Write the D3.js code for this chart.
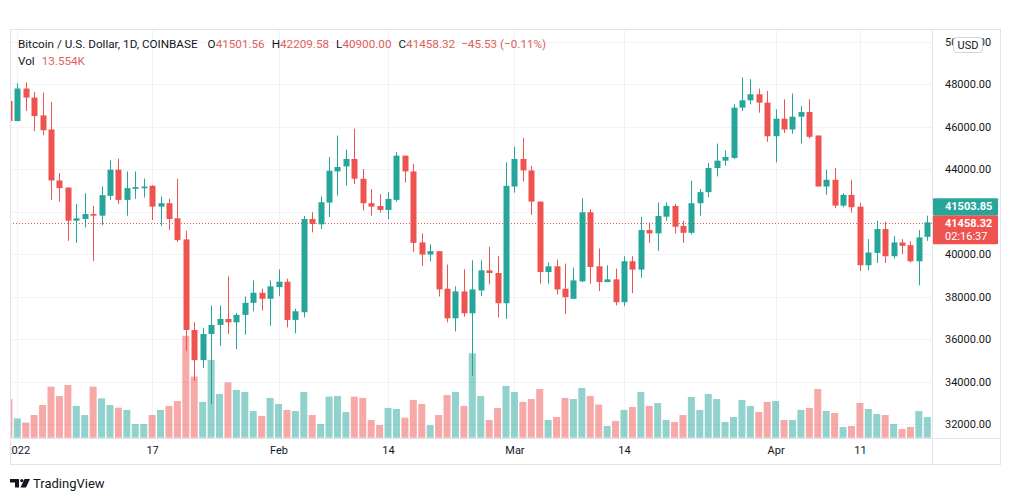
<!DOCTYPE html>
<html><head><meta charset="utf-8">
<script src="https://cdn.jsdelivr.net/npm/d3@7"></script>
<style>
html,body{margin:0;padding:0;background:#fff;}
svg{display:block;font-family:Roboto,"Noto Sans",sans-serif;}
</style></head>
<body>
<svg id="chart" width="1012" height="501"></svg>
<script>
// ---- data (Dec 31 2021 .. Apr 19 2022, daily) ----
const startDate = "2021-12-31";
const endDate = "2022-04-20"; // exclusive
const openVals = [47209,
 46262,47796,47370,46532,45868,43467,43135,41572,41652,41889,41809,42742,43974,42552,43073,43100,43216,42235,42396,41686,40691,36428,35006,36238,36664,36948,36787,37138,37706,38180,37896,
 38446,38701,36901,37261,41652,41401,42425,43893,44130,44480,43547,42396,42268,42079,42552,44637,43893,40549,39980,40137,38370,36977,38242,37214,38289,39237,39109,37687,
 43183,44480,43940,42472,39156,39426,38370,37896,38716,41970,39426,38682,38810,37735,39663,39270,41131,40975,41761,42268,41321,41003,42396,42917,44054,44400,44528,46896,47242,47526,47133,
 45551,46375,45868,46470,46688,45584,43183,43500,42283,42789,42235,39474,40056,41179,39900,40549,40421,39663,40814];
const highVals = [47300,
 48047,48080,47635,47607,47162,43817,43135,42363,42870,42268,43183,44414,44495,43893,43893,43561,43250,42709,42600,43547,41098,36787,36522,37579,37579,38952,37233,38005,38763,38370,38763,
 39284,38843,37422,41794,41970,42709,44575,45584,44921,45901,44007,43059,42822,42917,44812,44637,44244,40975,40454,40137,39507,38480,39284,39710,39710,40340,39900,44319,
 45049,45475,44163,42472,39601,39743,39554,39364,42633,42112,40265,39474,39317,39900,39900,41761,41496,42425,42425,42363,41572,43452,43073,44291,45205,44874,47053,48317,48237,47796,47683,
 46816,47289,47559,46972,47289,45584,43974,44054,42870,43500,42425,40705,41572,41524,40847,40705,40610,41131,41809];
const lowVals = [46200,
 46262,46735,45788,45598,42552,42472,40624,40530,41259,39677,41368,42552,42363,41809,42600,42661,41605,41321,41131,40577,35447,34026,34628,32922,35684,36238,35527,36205,37308,37342,36631,
 38019,36551,36266,37024,41022,41179,41733,42756,43230,43296,42046,41809,41951,41638,42472,43372,40104,39440,39663,38005,36787,36361,37058,34263,38019,38573,37024,36944,
 42898,43419,41842,38607,38607,38100,37185,37896,38682,38607,38256,38682,37579,37546,38161,38891,40530,40151,41572,40975,40530,40928,41809,42680,43656,44163,44480,46735,47053,46659,45286,
 44319,45700,45665,45205,45442,43183,42789,42159,42207,41951,39204,39237,39582,39582,39791,39994,39601,38526,40624];
const closeVals = [46262,
 47796,47370,46498,45835,43467,43107,41572,41686,41889,41809,42775,43974,42552,43107,43154,43180,42235,42396,41652,40658,36428,35006,36238,36664,36948,36787,37138,37706,38180,37896,38479,
 38701,36901,37308,41652,41416,42443,43926,44101,44480,43547,42396,42235,42079,42600,44637,43893,40530,39980,40137,38337,36977,38242,37214,38337,39237,39109,37687,43216,
 44480,43940,42472,39156,39426,38337,37972,38763,41970,39393,38682,38810,37735,39663,39270,41131,40975,41794,42268,41288,41003,42396,42917,44054,44400,44575,46896,47242,47526,47133,45551,
 46375,45868,46470,46688,45523,43183,43500,42283,42789,42207,39474,40075,41179,39900,40549,40388,39663,40786,41496];
const volumeK = [17.4,
 8.7,6.8,10.2,14.7,23.0,18.8,23.7,14.3,10.2,23.0,17.7,14.7,13.5,12.5,6.2,6.2,10.2,12.5,14.3,16.5,45.9,27.5,16.1,35.0,19.7,24.9,21.5,20.6,12.0,9.8,17.9,
 15.2,12.5,12.0,20.6,10.2,6.2,18.5,18.8,11.6,18.5,17.9,8.0,5.7,13.4,12.9,9.0,17.0,15.2,5.7,10.2,19.2,20.6,14.3,38.0,18.8,8.0,13.4,23.3,
 20.6,16.1,17.4,21.9,8.0,9.3,17.9,17.4,22.4,18.8,14.9,5.3,7.5,12.5,13.8,20.6,14.3,15.6,8.0,7.1,10.2,18.3,12.5,19.7,17.4,7.1,9.3,17.0,14.3,11.6,16.1,
 16.5,8.0,8.0,12.5,13.4,21.9,12.0,11.1,4.8,5.3,15.6,12.9,10.7,10.2,6.2,3.9,4.8,12.0,9.3];
const priceTicks = [32000,34000,36000,38000,40000,42000,44000,46000,48000,50000];
const timeTickDates = ["2022-01-01","2022-01-17","2022-02-01","2022-02-14","2022-03-01","2022-03-14","2022-04-01","2022-04-11"];
const timeTickLabels = ["2022","17","Feb","14","Mar","14","Apr","11"];
const headerTitle = "Bitcoin / U.S. Dollar, 1D, COINBASE";
const headerOHLC = [["O","41501.56"],["H","42209.58"],["L","40900.00"],["C","41458.32"]];
const headerChange = "\u221245.53 (\u22120.11%)";
const volLabel = "13.554K";
const lastPrice = 41458.32;
const prevPrice = 41503.85;
const countdown = "02:16:37";

// ---- build table ----
const dates = d3.utcDay.range(new Date(startDate), new Date(endDate));
const data = dates.map((d,i)=>({date:d,o:openVals[i],h:highVals[i],l:lowVals[i],c:closeVals[i],v:volumeK[i]}));

const UP="#26a69a", DN="#ef5350";
const UPV="rgba(38,166,154,0.5)", DNV="rgba(239,83,80,0.5)";
const TXT="#131722", GRID="#f0f3fa", BORDER="#e0e3eb";

const L=10, R=932, T=29, B=438, OUTR=1001, OUTB=465;

const svg = d3.select("#chart");
const x = d3.scaleUtc().domain([new Date("2022-01-01"), new Date("2022-04-19")]).range([17.3, 927.3]);
const y = d3.scaleLinear().domain([32000,48000]).range([424,84.2]);
const yv = d3.scaleLinear().domain([0,100]).range([437.7, 437.7-222.2]);

// frame
svg.append("rect").attr("x",L+0.5).attr("y",T+0.5).attr("width",OUTR-L-1).attr("height",OUTB-T-1)
  .attr("fill","#fff").attr("stroke",BORDER);

const defs = svg.append("defs");
defs.append("clipPath").attr("id","plotclip").append("rect").attr("x",L+1).attr("y",T+1).attr("width",R-L-1).attr("height",B-T-1);
defs.append("clipPath").attr("id","timeclip").append("rect").attr("x",L+1).attr("y",B).attr("width",R-L-1).attr("height",OUTB-B-1);

const plot = svg.append("g").attr("clip-path","url(#plotclip)");
// grid
plot.append("g").selectAll("line").data(priceTicks).join("line")
  .attr("x1",L).attr("x2",R).attr("y1",d=>Math.round(y(d))+0.5).attr("y2",d=>Math.round(y(d))+0.5)
  .attr("stroke",GRID);
plot.append("g").selectAll("line").data(timeTickDates).join("line")
  .attr("x1",d=>Math.round(x(new Date(d)))+0.5).attr("x2",d=>Math.round(x(new Date(d)))+0.5)
  .attr("y1",T).attr("y2",B).attr("stroke",GRID);

// volume
const vw = 7;
plot.append("g").selectAll("rect").data(data).join("rect")
  .attr("x",d=>x(d.date)-vw/2).attr("width",vw)
  .attr("y",d=>yv(d.v)).attr("height",d=>yv(0)-yv(d.v))
  .attr("fill",d=>d.c>=d.o?UPV:DNV);

// last price dotted line
plot.append("line").attr("x1",L).attr("x2",R)
  .attr("y1",Math.round(y(lastPrice))+0.5).attr("y2",Math.round(y(lastPrice))+0.5)
  .attr("stroke",DN).attr("stroke-dasharray","1,2");

// candles
const cw = 6;
const cg = plot.append("g").selectAll("g").data(data).join("g");
cg.append("line")
  .attr("x1",d=>Math.round(x(d.date))+0.5).attr("x2",d=>Math.round(x(d.date))+0.5)
  .attr("y1",d=>y(d.h)).attr("y2",d=>y(d.l))
  .attr("stroke",d=>d.c>=d.o?UP:DN).attr("stroke-width",1);
cg.append("rect")
  .attr("x",d=>Math.round(x(d.date))+0.5-cw/2).attr("width",cw)
  .attr("y",d=>y(Math.max(d.o,d.c))).attr("height",d=>Math.max(1.5,Math.abs(y(d.o)-y(d.c))))
  .attr("fill",d=>d.c>=d.o?UP:DN);

// axes separators
svg.append("line").attr("x1",R+0.5).attr("x2",R+0.5).attr("y1",T).attr("y2",OUTB).attr("stroke",BORDER);
svg.append("line").attr("x1",L).attr("x2",OUTR).attr("y1",B+0.5).attr("y2",B+0.5).attr("stroke",BORDER);

// price label boxes geometry (TradingView hides axis labels that sit under them)
const yl = y(lastPrice);
const redTop = yl-8, redH = 29, greenH = 17;
const boxTop = redTop-greenH, boxBottom = redTop+redH;
const labelledTicks = priceTicks.filter(t=>{const yy=y(t); return yy<boxTop-5 || yy>boxBottom+5;});

// price axis
const pa = svg.append("g").attr("transform",`translate(${R},0)`)
  .call(d3.axisRight(y).tickValues(labelledTicks).tickFormat(d3.format(".2f")).tickSize(0).tickPadding(13));
pa.select(".domain").remove();
pa.selectAll("text").attr("fill",TXT).style("font-size","11px").style("font-family","Roboto,sans-serif");

// time axis
const taWrap = svg.append("g").attr("clip-path","url(#timeclip)");
const ta = taWrap.append("g").attr("transform",`translate(0,${B})`)
  .call(d3.axisBottom(x).tickValues(timeTickDates.map(d=>new Date(d)))
    .tickFormat((d,i)=>timeTickLabels[i]).tickSize(0).tickPadding(8));
ta.select(".domain").remove();
ta.selectAll("text").attr("fill",TXT).style("font-size","11px").style("font-family","Roboto,sans-serif");

// USD badge
svg.append("rect").attr("x",953.5).attr("y",37.5).attr("width",29).attr("height",15).attr("rx",3)
  .attr("fill","#fff").attr("stroke","#d1d4dc");
svg.append("text").attr("x",968).attr("y",45).attr("dy","0.35em").attr("text-anchor","middle")
  .attr("fill",TXT).style("font-size","11px").text("USD");

// price labels
svg.append("rect").attr("x",R+1).attr("y",redTop).attr("width",65).attr("height",redH).attr("rx",1).attr("fill",DN);
svg.append("rect").attr("x",R+1).attr("y",boxTop).attr("width",65).attr("height",greenH).attr("rx",1).attr("fill",UP);
svg.append("text").attr("x",R+13).attr("y",redTop-8.5).attr("dy","0.35em").attr("fill","#fff")
  .style("font-size","11px").style("font-weight","bold").text(d3.format(".2f")(prevPrice));
svg.append("text").attr("x",R+13).attr("y",yl).attr("dy","0.35em").attr("fill","#fff")
  .style("font-size","11px").style("font-weight","bold").text(d3.format(".2f")(lastPrice));
svg.append("text").attr("x",R+13).attr("y",yl+13).attr("dy","0.35em").attr("fill","#fff")
  .style("font-size","11px").text(countdown);

// header
const hv = "#e0605c";
const h1 = svg.append("text").attr("x",18).attr("y",48).style("font-size","11.7px").attr("fill",TXT);
h1.append("tspan").text(headerTitle);
headerOHLC.forEach(([k,v],i)=>{
  h1.append("tspan").attr("dx", i===0?10:7).attr("fill",TXT).text(k);
  h1.append("tspan").attr("fill",hv).text(v);
});
h1.append("tspan").attr("dx",6).attr("fill",hv).text(headerChange);
const h2 = svg.append("text").attr("x",18).attr("y",65).style("font-size","11.7px").attr("fill",TXT);
h2.append("tspan").text("Vol");
h2.append("tspan").attr("dx",7).attr("fill",hv).text(volLabel);

// TradingView logo
const lg = svg.append("g").attr("fill",TXT);
lg.append("path").attr("d","M10,479 H19 V487.5 H15 V482.5 H10 Z");
lg.append("circle").attr("cx",21.8).attr("cy",480.6).attr("r",1.6);
lg.append("path").attr("d","M24.5,479 H30 L26,487.5 H20.5 Z");
svg.append("text").attr("x",33).attr("y",483.5).attr("dy","0.35em").attr("fill",TXT)
  .style("font-size","13px").text("TradingView");
</script>
</body></html>
